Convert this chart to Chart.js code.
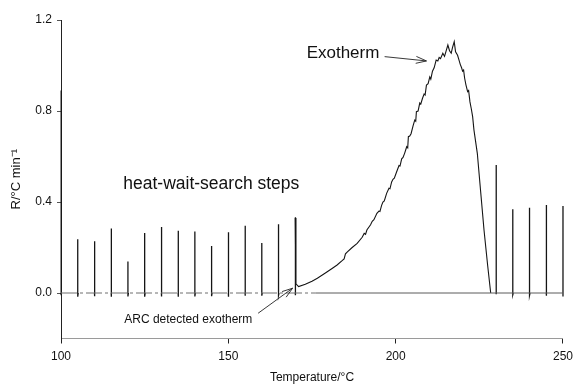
<!DOCTYPE html>
<html>
<head>
<meta charset="utf-8">
<script src="https://cdn.jsdelivr.net/npm/chart.js@4/dist/chart.umd.min.js"></script>
<style>
  html, body { margin: 0; padding: 0; background: #fff; }
  #wrap { width: 579px; height: 385px; position: relative; }
</style>
</head>
<body>
<div id="wrap"><canvas id="c" width="579" height="385"></canvas></div>
<script>
// ---- Data ----
const xTicks = [100, 150, 200, 250];
const yTicks = [0.0, 0.4, 0.8, 1.2];

// heat-wait-search spikes (temperature, peak rate, small undershoot)
const spikeTemps = [100, 105, 110, 115, 120, 125, 130, 135, 140, 145, 150, 155, 160, 165, 170, 230, 235, 240, 245, 250];
const spikeTops  = [0.89, 0.236, 0.227, 0.284, 0.138, 0.264, 0.29, 0.274, 0.27, 0.207, 0.267, 0.296, 0.22, 0.302, 0.333, 0.563, 0.368, 0.375, 0.387, 0.382];
const spikeLows  = [-0.01, -0.016, -0.014, -0.016, -0.015, -0.016, -0.015, -0.016, -0.015, -0.014, -0.016, -0.012, -0.012, -0.01, -0.01, -0.005, -0.008, -0.01, -0.012, -0.015];

// exotherm curve
const curveTemps = [170.0, 170.2, 171.0, 173.0, 175.0, 176.6, 179.0, 181.0, 182.5, 184.0, 184.6, 185.0, 185.5, 187.0, 188.5, 190.0, 190.6, 191.0, 191.4, 192.5, 193.0, 193.5, 194.4, 195.0, 195.3, 195.8, 196.2, 196.6, 197.3, 198.0, 198.3, 198.8, 199.2, 199.6, 200.3, 201.0, 201.3, 201.8, 202.2, 202.7, 203.3, 203.6, 203.8, 204.2, 204.6, 205.2, 205.7, 206.0, 206.2, 206.7, 207.2, 207.5, 208.0, 208.5, 208.8, 209.2, 209.7, 210.2, 210.5, 211.0, 211.5, 212.1, 212.6, 213.0, 213.4, 214.1, 214.6, 215.0, 215.6, 216.1, 216.6, 217.0, 217.5, 217.9, 218.5, 219.0, 219.3, 219.7, 220.0, 220.3, 220.6, 221.0, 221.5, 221.8, 222.2, 222.6, 223.0, 223.4, 224.4, 225.4, 226.4, 227.5, 228.4];
const curveRates = [0.33, 0.04, 0.028, 0.038, 0.052, 0.065, 0.088, 0.108, 0.123, 0.142, 0.15, 0.172, 0.18, 0.2, 0.218, 0.245, 0.262, 0.258, 0.277, 0.3, 0.315, 0.322, 0.35, 0.36, 0.358, 0.385, 0.4, 0.405, 0.438, 0.46, 0.458, 0.488, 0.5, 0.505, 0.533, 0.56, 0.558, 0.59, 0.596, 0.615, 0.643, 0.638, 0.687, 0.69, 0.7, 0.735, 0.76, 0.755, 0.797, 0.8, 0.835, 0.83, 0.855, 0.875, 0.87, 0.914, 0.92, 0.95, 0.94, 0.975, 0.99, 1.024, 1.02, 1.035, 1.03, 1.054, 1.04, 1.06, 1.09, 1.065, 1.054, 1.08, 1.105, 1.06, 1.045, 1.02, 1.005, 0.99, 0.975, 0.98, 0.945, 0.915, 0.885, 0.89, 0.84, 0.81, 0.775, 0.716, 0.614, 0.445, 0.277, 0.12, 0.0];

// zero baseline: broken (left) and solid (right) parts
const baseLeftTemps = [100, 176];
const baseRightTemps = [176, 250];
const baseRates = [0, 0];

// ---- Build datasets ----
const spikeData = [];
spikeTemps.forEach((t, i) => {
  spikeData.push({x: t, y: 0});
  spikeData.push({x: t, y: spikeTops[i]});
  spikeData.push({x: t, y: spikeLows[i]});
  spikeData.push({x: t + 0.15, y: 0});
  spikeData.push({x: t + 0.2, y: null});
});
const curveData = curveTemps.map((t, i) => ({x: t, y: curveRates[i]}));
const baseLeft = baseLeftTemps.map((t, i) => ({x: t, y: baseRates[i]}));
const baseRight = baseRightTemps.map((t, i) => ({x: t, y: baseRates[i]}));

const FONT = "'Liberation Sans', Arial, sans-serif";

const annot = {
  id: 'annot',
  afterDatasetsDraw(chart) {
    const {ctx, scales: {x, y}} = chart;
    const px = v => x.getPixelForValue(v);
    const py = v => y.getPixelForValue(v);
    ctx.save();
    ctx.fillStyle = '#111';
    ctx.textBaseline = 'middle';
    ctx.textAlign = 'left';
    ctx.font = '17px ' + FONT;
    ctx.fillText('Exotherm', px(173.4), py(1.055));
    ctx.font = '17.5px ' + FONT;
    ctx.fillText('heat-wait-search steps', px(118.6), py(0.479));
    ctx.font = '12px ' + FONT;
    ctx.fillText('ARC detected exotherm', px(118.9), py(-0.119));

    function arrow(t0, v0, t1, v1) {
      const x0 = px(t0), y0 = py(v0), x1 = px(t1), y1 = py(v1);
      ctx.strokeStyle = '#222';
      ctx.lineWidth = 0.9;
      ctx.beginPath();
      ctx.moveTo(x0, y0); ctx.lineTo(x1, y1);
      const a = Math.atan2(y1 - y0, x1 - x0);
      const L = 11, w = 0.32;
      ctx.moveTo(x1, y1); ctx.lineTo(x1 - L * Math.cos(a - w), y1 - L * Math.sin(a - w));
      ctx.moveTo(x1, y1); ctx.lineTo(x1 - L * Math.cos(a + w), y1 - L * Math.sin(a + w));
      ctx.stroke();
    }
    arrow(196.7, 1.039, 209.2, 1.02);
    arrow(158.9, -0.089, 169.2, 0.021);
    ctx.restore();
  }
};

new Chart(document.getElementById('c'), {
  type: 'scatter',
  data: {
    datasets: [
      { data: baseLeft, showLine: true, borderColor: '#6e6e6e', borderWidth: 1, borderDash: [16, 3, 3, 3], pointRadius: 0 },
      { data: baseRight, showLine: true, borderColor: '#5a5a5a', borderWidth: 1, pointRadius: 0 },
      { data: spikeData, showLine: true, borderColor: '#151515', borderWidth: 1.3, pointRadius: 0, spanGaps: false, clip: 3 },
      { data: curveData, showLine: true, borderColor: '#151515', borderWidth: 1.1, pointRadius: 0 }
    ]
  },
  plugins: [annot],
  options: {
    responsive: false,
    animation: false,
    devicePixelRatio: 1,
    layout: { padding: { top: 20, right: 11, left: 0, bottom: 0 } },
    plugins: { legend: { display: false }, tooltip: { enabled: false } },
    scales: {
      x: {
        type: 'linear', min: 100, max: 250,
        afterBuildTicks: s => { s.ticks = xTicks.map(v => ({value: v})); },
        afterFit: s => { s.height = 46.5; },
        grid: { drawOnChartArea: false, drawTicks: true, tickLength: 5, color: '#222', tickWidth: 1 },
        border: { display: true, color: '#9a9a9a', width: 1, dash: [14, 5, 3, 5] },
        ticks: { color: '#111', font: { family: FONT, size: 12 }, padding: 6, maxRotation: 0, callback: v => String(v) },
        title: { display: true, text: 'Temperature/°C', color: '#111', font: { family: FONT, size: 12 }, padding: { top: 0, bottom: 0 } }
      },
      y: {
        type: 'linear', min: -0.2, max: 1.2,
        afterBuildTicks: s => { s.ticks = yTicks.map(v => ({value: v})); },
        afterFit: s => { s.width = 61; },
        grid: { drawOnChartArea: false, drawTicks: true, tickLength: 4, color: '#555', tickWidth: 1 },
        border: { display: true, color: '#222', width: 1 },
        ticks: { color: '#111', font: { family: FONT, size: 12 }, padding: 5, callback: v => Number(v).toFixed(1) },
        title: { display: true, text: 'R/°C min⁻¹', color: '#111', font: { family: FONT, size: 13 }, padding: { top: 9, bottom: 0 } }
      }
    }
  }
});
</script>
</body>
</html>
